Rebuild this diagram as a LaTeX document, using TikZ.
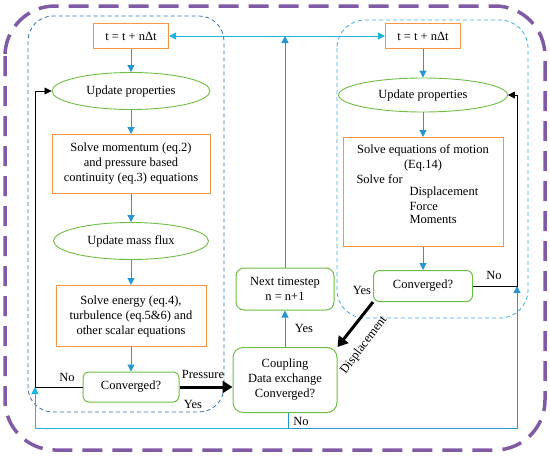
\documentclass[tikz,border=0pt]{standalone}
\usepackage{fontspec}
\setmainfont{Liberation Serif}
\usetikzlibrary{shapes.geometric, arrows.meta}

\definecolor{boxorange}{RGB}{247,150,70}
\definecolor{boxgreen}{RGB}{110,190,70}
\definecolor{flowblue}{RGB}{40,150,210}
\definecolor{linecyan}{RGB}{30,180,220}
\definecolor{framepurple}{RGB}{128,90,165}
\definecolor{framedark}{RGB}{50,110,170}
\definecolor{framelight}{RGB}{60,170,230}

\tikzset{
  orbox/.style={draw=boxorange, line width=1pt, fill=white, align=center},
  grell/.style={ellipse, draw=boxgreen, line width=0.9pt, fill=white, inner sep=0pt},
  grbox/.style={draw=boxgreen, line width=1pt, fill=white, rounded corners=6pt, align=center},
  flow/.style={draw=flowblue, line width=1pt, -{Triangle[length=7pt,width=7pt]}},
  loopback/.style={line width=0.8pt, -{Triangle[length=7pt,width=7pt]}},
  thk/.style={line width=3pt, -{Triangle[length=10pt,width=12pt]}}
}

\begin{document}
\begin{tikzpicture}[x=1pt, y=-1pt, font=\fontsize{12.5}{15}\selectfont]
    \useasboundingbox (0,0) rectangle (550,456);

    % Frames
    \draw[framepurple, line width=3.5pt, dash pattern=on 20pt off 10pt, rounded corners=50pt] (5,6) rectangle (545,450);
    \draw[framedark, line width=0.8pt, dash pattern=on 4pt off 3pt, rounded corners=25pt] (28,16) rectangle (224,412);
    \draw[framelight, line width=0.8pt, dash pattern=on 4pt off 3pt, rounded corners=28pt] (337,20) rectangle (528,318);

    % Fluid solver
    \node[orbox, minimum width=75pt, minimum height=25pt] (lt) at (131,36) {t = t + nΔt};
    \node[grell, minimum width=158pt, minimum height=37pt] (lu) at (131,91) {Update properties};
    \node[orbox, minimum width=158pt, minimum height=59pt] (lm) at (131,164) {Solve momentum (eq.2)\\and pressure based\\continuity (eq.3) equations};
    \node[grell, minimum width=155pt, minimum height=37pt] (lf) at (131,241) {Update mass flux};
    \node[orbox, minimum width=150pt, minimum height=61pt] (le) at (131,316) {Solve energy (eq.4),\\turbulence (eq.5\&6) and\\other scalar equations};
    \node[grbox, minimum width=96pt, minimum height=30pt] (lc) at (131,387) {Converged?};

    % Coupling
    \node[grbox, rounded corners=10pt, minimum width=104pt, minimum height=65pt] (cp) at (285,380) {Coupling\\Data exchange\\Converged?};
    \node[grbox, rounded corners=8pt, minimum width=98pt, minimum height=42pt] (nx) at (285,289) {Next timestep\\n = n+1};

    % Structural solver
    \node[orbox, minimum width=75pt, minimum height=25pt] (rt) at (423,36) {t = t + nΔt};
    \node[grell, minimum width=169pt, minimum height=34pt] (ru) at (423,95) {Update properties};
    \node[orbox, minimum width=160pt, minimum height=109pt] (rm) at (423,192) {};
    \node (rma) at (423,150) {Solve equations of motion};
    \node (rmb) at (423,165) {(Eq.14)};
    \node[anchor=west] (rmc) at (353,179) {Solve for};
    \node[anchor=west] (rmd) at (406,192) {Displacement};
    \node[anchor=west] (rme) at (406,206) {Force};
    \node[anchor=west] (rmf) at (406,219) {Moments};
    \node[grbox, minimum width=99pt, minimum height=31pt] (rc) at (423,286) {Converged?};

    \coordinate (lk) at (35,0);
    \coordinate (rk) at (517,0);
    \coordinate (bt) at (0,428);
    \coordinate (cb) at (288,413);

    % Flow arrows
    \draw[flow] (lt) -- (lu);
    \draw[flow] (lu) -- (lm);
    \draw[flow] (lm) -- (lf);
    \draw[flow] (lf) -- (le);
    \draw[flow] (le) -- (lc);
    \draw[flow] (rt) -- (ru);
    \draw[flow] (ru) -- (rm);
    \draw[flow] (rm) -- (rc);
    \draw[flow, draw=linecyan, {Triangle[length=7pt,width=7pt]}-{Triangle[length=7pt,width=7pt]}] (lt.east) -- (rt.west);
    \draw[flow] (nx.north) -- (nx.north |- lt.east);
    \draw[flow] (cp.north) -- (nx.south) node[midway, right=6pt] (yb) {Yes};

    % Inner loops
    \draw[loopback] (lc.west) -- (lc.west -| lk) |- (lu.west);
    \node (na) at (67,377) {No};
    \draw[loopback] (rc.east) -- (rc.east -| rk) |- (ru.east);
    \node (nb) at (494,275) {No};

    % Data exchange
    \draw[thk] (lc.east) -- (lc.east -| cp.west);
    \node (pr) at (203,374) {Pressure};
    \node (ya) at (193,404) {Yes};
    \draw[thk] (rc.south west) -- (cp.north east);
    \node[rotate=53] (ds) at (364,345) {Displacement};
    \node (yc) at (362,290) {Yes};

    % Coupling not converged
    \draw[flow, draw=linecyan] (cb) |- (lk |- bt) -- (lk |- lc.west);
    \draw[flow] (cb) |- (rk |- bt) -- (rk |- rc.east);
    \node (nc) at (301,421) {No};
\end{tikzpicture}
\end{document}
